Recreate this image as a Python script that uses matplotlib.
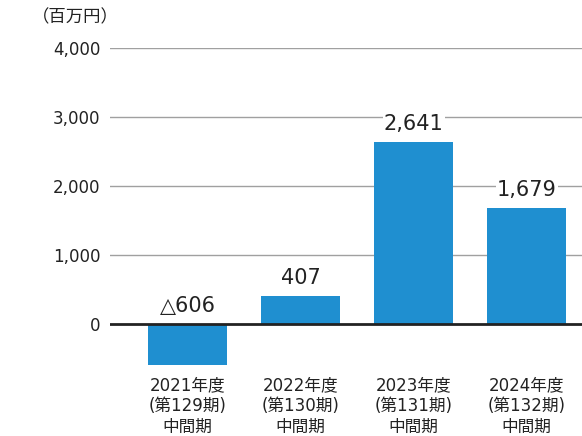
import numpy as np
import matplotlib.pyplot as plt

# wide latin digits from DejaVu, kanji fall back to Noto CJK
plt.rcParams['font.family'] = ['DejaVu Sans', 'Noto Sans CJK JP']

periods = ['2021年度\n(第129期)\n中間期', '2022年度\n(第130期)\n中間期',
           '2023年度\n(第131期)\n中間期', '2024年度\n(第132期)\n中間期']
values = [-606, 407, 2641, 1679]
value_labels = ['△606', '407', '2,641', '1,679']
yticks = [0, 1000, 2000, 3000, 4000]
ytick_labels = ['0', '1,000', '2,000', '3,000', '4,000']

fig = plt.figure(figsize=(5.82, 4.36), dpi=100)
ax = fig.add_axes([0.189, 0.147, 0.811, 0.743])

x = np.arange(len(values))
ax.bar(x, values, width=0.70, color='#1f8fd0', zorder=2)

for yt in yticks[1:]:
    ax.axhline(yt, color='#a0a0a0', lw=1.0, zorder=1)
ax.axhline(0, color='#222222', lw=2.0, zorder=3)

for xi, v, lab in zip(x, values, value_labels):
    top = max(v, 0)
    ax.annotate(lab, (xi, top), xytext=(0, 5.5), textcoords='offset points',
                ha='center', va='bottom', fontsize=15, color='#222222',
                bbox=dict(boxstyle='square,pad=0.05', fc='white', ec='none'),
                zorder=4)

ax.set_xlim(-0.686, 3.49)
ax.set_ylim(-700, 4000)
ax.set_yticks(yticks)
ax.set_yticklabels(ytick_labels, fontsize=12, color='#222222')
ax.set_xticks(x)
ax.set_xticklabels(periods, fontsize=12, color='#222222', linespacing=1.2)
ax.tick_params(axis='both', length=0)
ax.tick_params(axis='y', pad=7)
ax.tick_params(axis='x', pad=3)
for s in ax.spines.values():
    s.set_visible(False)

fig.text(0.055, 0.96, '（百万円）', fontsize=12.5, color='#222222',
         ha='left', va='center')

fig.savefig('out.png')
